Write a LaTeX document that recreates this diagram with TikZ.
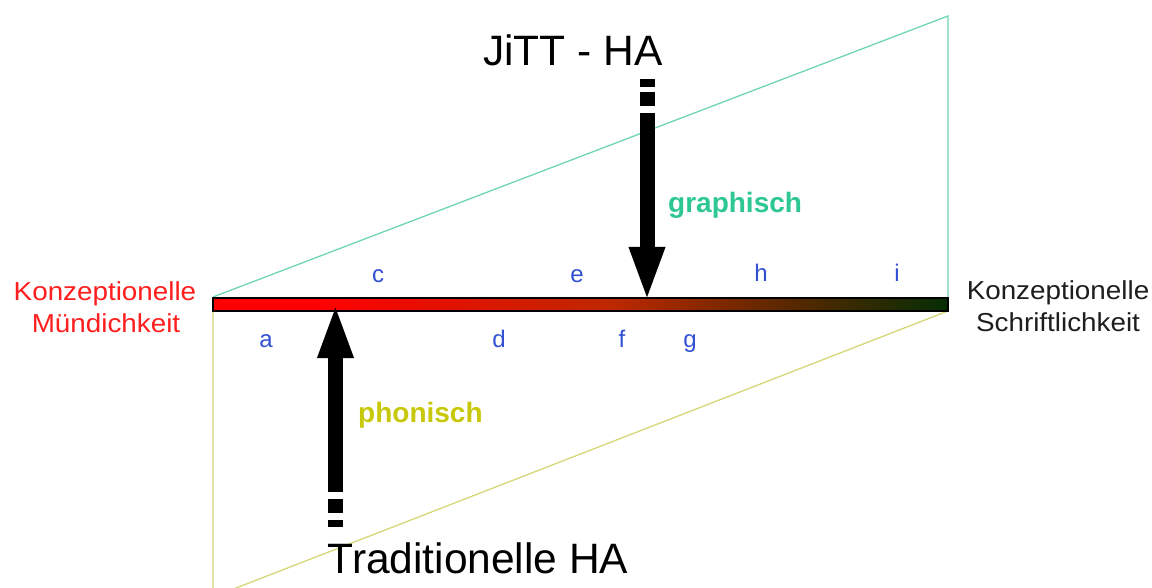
\documentclass[tikz,border=0pt]{standalone}
\usepackage{fontspec}
\usepackage{graphicx}
\setmainfont{Liberation Sans}
\usetikzlibrary{arrows.meta}
\definecolor{konred}{RGB}{255,30,30}
\definecolor{letterblue}{RGB}{50,80,210}
\definecolor{graphgreen}{RGB}{45,200,145}
\definecolor{graphline}{RGB}{110,215,175}
\definecolor{phonyellow}{RGB}{200,200,10}
\definecolor{phonline}{RGB}{215,215,120}
\definecolor{bardark}{RGB}{5,45,5}
\definecolor{barmid}{RGB}{190,40,0}
\definecolor{barbrown}{RGB}{90,40,0}
\definecolor{sidegray}{RGB}{30,30,30}
\pgfdeclarehorizontalshading{barshade}{100bp}{color(0bp)=(red); color(32bp)=(red); color(52bp)=(barmid); color(64bp)=(barbrown); color(75bp)=(bardark); color(100bp)=(bardark)}
\begin{document}
\begin{tikzpicture}[x=1bp,y=-1bp,
  big/.style={font=\fontsize{42.5bp}{43bp}\selectfont, anchor=base, inner sep=0pt},
  side/.style={font=\fontsize{26bp}{32bp}\selectfont, anchor=base, inner sep=0pt},
  letter/.style={font=\fontsize{24bp}{24bp}\selectfont, text=letterblue, anchor=base, inner sep=0pt},
  modelabel/.style={font=\bfseries\fontsize{28bp}{28bp}\selectfont, anchor=base west, inner sep=0pt},
  fatarrow/.style={line width=15bp, -{Triangle[width=32bp,length=55bp]}},
  fatdash/.style={line width=15bp},
  tri/.style={line width=1.3bp}]
\fill[white] (0,0) rectangle (1152,588);
\useasboundingbox (0,0) rectangle (1152,588);
% triangles
\draw[tri, graphline] (213,297) -- (948,16) -- (948,297);
\draw[tri, phonline] (213,311) -- (213,597) -- (948,311);
% bar
\draw[black, line width=1.2bp, shading=barshade] (213,298) rectangle (948,311);
% arrows
\coordinate (jtail) at (647,113);
\coordinate (jtip) at (647,302);
\draw[fatarrow] (jtail) -- (jtip);
\draw[fatdash] (647,92) -- (647,106);
\draw[fatdash] (647,79) -- (647,87);
\coordinate (ttail) at (335.5,492);
\coordinate (ttip) at (335.5,303);
\draw[fatarrow] (ttail) -- (ttip);
\draw[fatdash] (335.5,499) -- (335.5,513);
\draw[fatdash] (335.5,520) -- (335.5,527);
% big labels
\node[big] (jitt) at (573,66) {JiTT - HA};
\node[big] (trad) at (478,573) {Traditionelle HA};
% side labels
\node[side, text=konred] (lk1) at (105,301) {\scalebox{1.07}[1]{Konzeptionelle}};
\node[side, text=konred] (lk2) at (106,333) {\scalebox{1.07}[1]{Mündichkeit}};
\node[side, text=sidegray] (rk1) at (1058,300) {\scalebox{1.07}[1]{Konzeptionelle}};
\node[side, text=sidegray] (rk2) at (1058,332) {\scalebox{1.07}[1]{Schriftlichkeit}};
% mode labels
\node[modelabel, text=graphgreen] (graph) at (668,213) {graphisch};
\node[modelabel, text=phonyellow] (phon) at (358,422) {phonisch};
% letters
\node[letter] (la) at (266,347) {a};
\node[letter] (lc) at (378,283) {c};
\node[letter] (ld) at (499,347) {d};
\node[letter] (le) at (577,283) {e};
\node[letter] (lf) at (622,347) {f};
\node[letter] (lg) at (690,347) {g};
\node[letter] (lh) at (761,282) {h};
\node[letter] (li) at (897,282) {i};
\end{tikzpicture}
\end{document}
